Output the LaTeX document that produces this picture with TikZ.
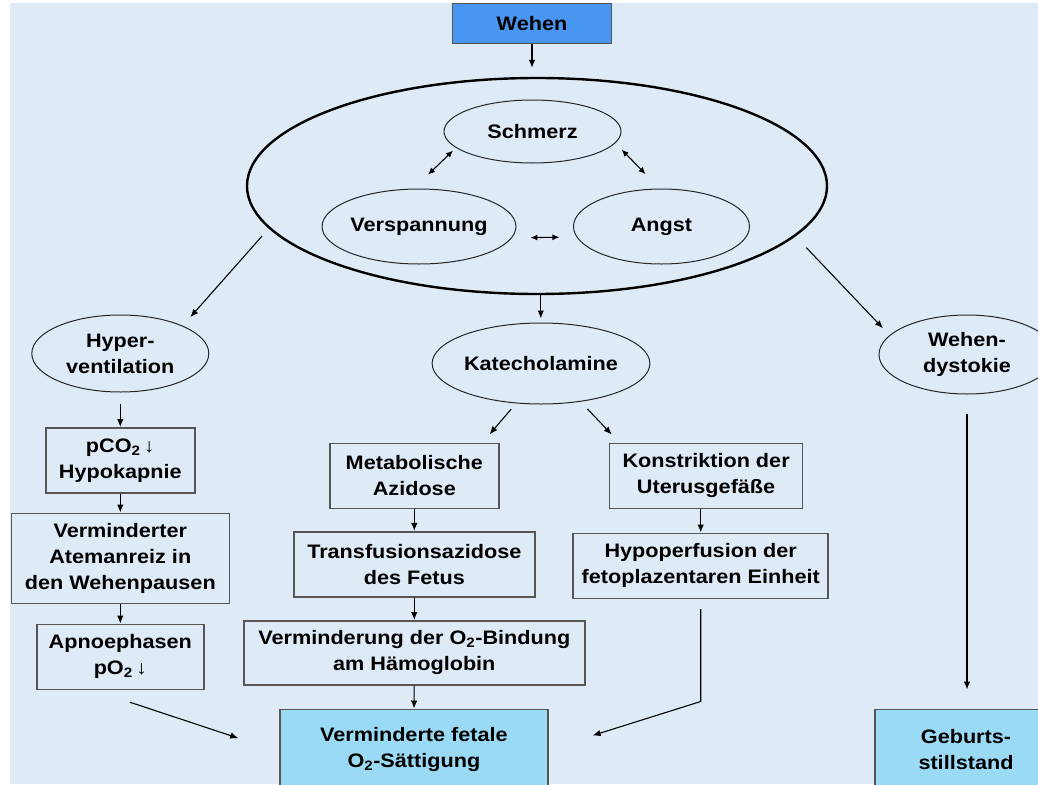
\documentclass[tikz,border=0pt]{standalone}
\usepackage{fontspec}
\setmainfont[FakeStretch=1.11]{Liberation Sans}
\usetikzlibrary{positioning,shapes.geometric,arrows.meta}
\definecolor{bgblue}{RGB}{222,235,247}
\definecolor{wehenblue}{RGB}{72,150,240}
\definecolor{endblue}{RGB}{155,218,245}
\definecolor{boxgray}{RGB}{85,85,85}
\tikzset{
  box/.style={draw=boxgray, line width=1.6pt, inner sep=0pt, align=center},
  oval/.style={ellipse, draw=black!85, line width=1pt, inner sep=0pt, align=center},
  arr/.style={-{Latex[length=8pt,width=6.5pt]}, line width=1.1pt},
  both/.style={{Latex[length=7pt,width=6pt]}-{Latex[length=7pt,width=6pt]}, line width=1.1pt},
}
\begin{document}
\begin{tikzpicture}[x=1pt, y=-1pt, font=\bfseries\fontsize{19.5}{26}\selectfont]
  \useasboundingbox (0,0) rectangle (1038,784);
  \fill[white] (0,0) rectangle (1038,784);
  \fill[bgblue] (10,3) rectangle (1038,784);
  \clip (0,0) rectangle (1038,784);

  \node [box, fill=wehenblue, minimum width=159pt, minimum height=40pt] (wehen) at (532,23.5) {Wehen};
  \node [ellipse, draw, line width=2.4pt, minimum width=580pt, minimum height=216pt] (cycle) at (537,186) {};
  \node [oval, minimum width=177pt, minimum height=63pt] (schmerz) at (532.5,131.5) {Schmerz};
  \node [oval, minimum width=176pt, minimum height=75pt] (versp) at (419,226.5) {Verspannung};
  \node [oval, minimum width=176pt, minimum height=75pt] (angst) at (661.5,226.5) {Angst};

  \node [oval, minimum width=177pt, minimum height=77pt] (hyper) at (120.3,353.5) {Hyper-\\ventilation};
  \node [oval, minimum width=202pt, minimum height=81pt] (katech) at (541,363.5) {Katecholamine};
  \node [oval, minimum width=176pt, minimum height=79pt] (dystokie) at (967,354.5) {Wehen-\\dystokie};

  % left column
  \node [box, minimum width=149pt, minimum height=65pt] (pco) at (120.3,460.3) {pCO\textsubscript{2}\,↓\\Hypokapnie};
  \node [box, minimum width=218pt, minimum height=90pt] (atem) at (120.3,558.3) {Verminderter\\Atemanreiz in\\den Wehenpausen};
  \node [box, minimum width=167pt, minimum height=65pt] (apnoe) at (120.3,656.8) {Apnoephasen\\pO\textsubscript{2}\,↓};

  % middle column
  \node [box, minimum width=169pt, minimum height=65pt] (azidose) at (414.3,475.8) {Metabolische\\Azidose};
  \node [box, minimum width=241pt, minimum height=65pt] (transf) at (414.3,564.2) {Transfusionsazidose\\des Fetus};
  \node [box, minimum width=341pt, minimum height=64pt] (bindung) at (414.3,652.8) {Verminderung der O\textsubscript{2}-Bindung\\am Hämoglobin};
  \node [box, fill=endblue, minimum width=268pt, minimum height=80pt] (saett) at (413.9,749.3) {Verminderte fetale\\O\textsubscript{2}-Sättigung};

  % right column
  \node [box, minimum width=193pt, minimum height=65pt] (konstr) at (706.1,475.8) {Konstriktion der\\Uterusgefäße};
  \node [box, minimum width=255pt, minimum height=65pt] (hypoperf) at (700.7,565.8) {Hypoperfusion der\\fetoplazentaren Einheit};
  \node [box, fill=endblue, minimum width=182pt, minimum height=80pt] (stillstand) at (966,749.3) {Geburts-\\stillstand};

  \draw [arr, shorten >=9pt] (wehen) -- (wehen |- cycle.north);
  \draw [both, shorten <=4pt, shorten >=20pt] (schmerz.192) -- (versp.98);
  \draw [both, shorten <=9pt, shorten >=20pt] (schmerz.352) -- (angst.93);
  \draw [both, shorten <=18.5pt, shorten >=17pt] (versp.-7) -- (angst.187);

  \draw [arr, shorten <=10pt, shorten >=11.5pt] (cycle.189.4) -- (hyper.24);
  \draw [arr, shorten >=4pt] (cycle.272) -- (cycle.272 |- katech.north);
  \draw [arr, shorten <=15.7pt, shorten >=9.5pt] (cycle.349.7) -- (dystokie.166);

  \draw [arr, shorten <=11pt] (hyper) -- (pco);
  \draw [arr] (pco) -- (atem);
  \draw [arr] (atem) -- (apnoe);

  \draw [arr, shorten <=7.4pt, shorten >=10.8pt] (katech.238.3) -- (azidose.26.4);
  \draw [arr, shorten <=10pt, shorten >=11pt] (katech.316) -- (konstr.159.5);
  \draw [arr] (azidose) -- (transf);
  \draw [arr] (transf) -- (bindung);
  \draw [arr] (bindung) -- (saett);
  \draw [arr] (konstr.south -| hypoperf) -- (hypoperf);

  \draw [arr, shorten <=38.5pt, shorten >=43pt] (apnoe.231.5) -- (saett.181);
  \draw [arr, shorten >=46pt] ([yshift=-10pt]hypoperf.south) -- ([yshift=-102.4pt]hypoperf.south) -- (saett.east);
  \draw [arr, shorten <=19pt, shorten >=19pt] (dystokie) -- (dystokie |- stillstand.north);
\end{tikzpicture}
\end{document}
